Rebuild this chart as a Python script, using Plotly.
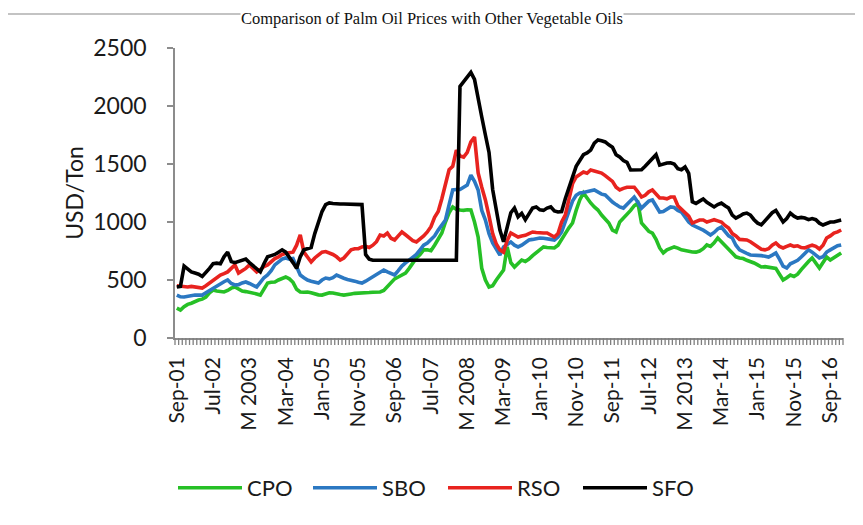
import plotly.graph_objects as go

months_count = 184  # Sep-01 .. Dec-16 monthly
tick_positions = [0, 10, 20, 30, 40, 50, 60, 70, 80, 90, 100, 110, 120, 130, 140, 150, 160, 170, 180]
tick_labels = ["Sep-01", "Jul-02", "M 2003", "Mar-04", "Jan-05", "Nov-05", "Sep-06", "Jul-07",
               "M 2008", "Mar-09", "Jan-10", "Nov-10", "Sep-11", "Jul-12", "M 2013", "Mar-14",
               "Jan-15", "Nov-15", "Sep-16"]

cpo = [258, 241, 270, 290, 300, 315, 327, 335, 353, 390,
       414, 405, 400, 397, 410, 430, 440, 420, 405, 400,
       395, 390, 380, 370, 420, 474, 480, 483, 500, 515,
       526, 510, 480, 420, 397, 395, 397, 390, 380, 372,
       370, 380, 390, 388, 385, 375, 370, 372, 380, 385,
       385, 388, 390, 392, 395, 397, 397, 410, 440, 480,
       510, 526, 545, 560, 600, 650, 690, 720, 760, 760,
       752, 800, 860, 905, 1000, 1080, 1130, 1110, 1103, 1100,
       1105, 1103, 1000, 870, 600, 500, 440, 450, 500, 543,
       586, 785, 650, 612, 640, 672, 660, 680, 710, 733,
       760, 785, 780, 776, 776, 800, 845, 900, 950, 991,
       1100, 1190, 1250, 1200, 1164, 1130, 1103, 1060, 1020, 991,
       930, 914, 1000, 1030, 1060, 1100, 1140, 1164, 991, 950,
       920, 905, 850, 776, 733, 760, 770, 785, 775, 760,
       755, 745, 741, 740, 750, 770, 802, 790, 820, 862,
       830, 802, 760, 733, 700, 690, 685, 670, 660, 647,
       630, 612, 615, 610, 605, 600, 550, 500, 520, 543,
       530, 550, 590, 630, 660, 690, 650, 603, 650, 698,
       672, 690, 715, 733]

sbo = [370, 355, 353, 360, 365, 370, 370, 370, 390, 410,
       430, 450, 470, 485, 500, 470, 457, 460, 475, 483,
       470, 455, 440, 480, 520, 543, 580, 630, 660, 680,
       690, 680, 685, 620, 543, 520, 500, 490, 480, 474,
       500, 517, 510, 520, 543, 526, 515, 505, 500, 490,
       480, 474, 490, 510, 526, 550, 575, 586, 570, 555,
       543, 580, 620, 647, 670, 690, 720, 760, 800, 819,
       850, 880, 930, 980, 1017, 1150, 1276, 1280, 1280, 1300,
       1319, 1405, 1350, 1276, 1100, 1017, 900, 819, 760, 715,
       785, 810, 828, 800, 785, 800, 820, 845, 850, 860,
       862, 860, 858, 850, 845, 870, 914, 1000, 1103, 1180,
       1230, 1250, 1255, 1259, 1270, 1276, 1260, 1240, 1233, 1200,
       1172, 1150, 1130, 1120, 1150, 1190, 1215, 1170, 1120, 1150,
       1180, 1190, 1140, 1086, 1090, 1110, 1130, 1125, 1100, 1086,
       1040, 1000, 974, 960, 948, 930, 910, 888, 910, 940,
       957, 920, 880, 862, 800, 760, 741, 730, 716, 716,
       716, 710, 705, 698, 715, 733, 680, 620, 603, 640,
       655, 670, 698, 730, 760, 740, 710, 690, 700, 741,
       760, 780, 795, 802]

rso = [450, 445, 440, 440, 445, 440, 430, 430, 450, 475,
       500, 520, 543, 555, 570, 600, 630, 560, 580, 600,
       630, 600, 570, 590, 615, 630, 660, 685, 700, 720,
       730, 735, 740, 800, 890, 740, 700, 655, 690, 720,
       740, 745, 735, 720, 700, 672, 690, 720, 760, 770,
       770, 785, 790, 780, 800, 830, 888, 880, 905, 860,
       845, 880, 914, 890, 860, 840, 828, 850, 880, 914,
       960, 1040, 1090, 1200, 1336, 1450, 1480, 1620, 1570, 1560,
       1600, 1690, 1733, 1422, 1300, 1190, 1050, 900, 810, 760,
       740, 840, 905, 885, 870, 880, 885, 900, 914, 910,
       905, 905, 905, 890, 870, 900, 1000, 1060, 1200, 1330,
       1388, 1410, 1431, 1420, 1448, 1440, 1430, 1422, 1400, 1375,
       1350, 1300, 1276, 1290, 1300, 1300, 1300, 1260, 1215, 1230,
       1260, 1276, 1240, 1207, 1207, 1200, 1215, 1215, 1140, 1110,
       1090, 1050, 991, 1000, 1017, 1017, 1000, 1010, 1020, 1010,
       1000, 970, 948, 900, 880, 850, 845, 845, 830, 810,
       790, 765, 760, 770, 800, 819, 790, 776, 790, 802,
       790, 795, 780, 776, 790, 800, 790, 767, 800, 862,
       880, 905, 915, 931]

sfo = [440, 445, 620, 590, 570, 560, 550, 530, 560, 600,
       640, 645, 640, 700, 740, 660, 650, 660, 670, 680,
       650, 620, 590, 570, 640, 700, 710, 720, 740, 760,
       740, 700, 650, 600, 700, 760, 770, 780, 900, 1000,
       1090, 1150, 1165, 1160, 1155, 1155, 1155, 1155, 1155, 1155,
       1155, 1150, 720, 680, 670, 670, 670, 670, 670, 670,
       670, 670, 670, 670, 670, 670, 670, 670, 670, 670,
       670, 670, 670, 670, 670, 670, 670, 670, 2170, 2210,
       2260, 2290, 2230, 2050, 1905, 1750, 1600, 1280, 1100, 930,
       830, 950, 1080, 1120, 1045, 1075, 1020, 1070, 1120, 1130,
       1105, 1100, 1120, 1130, 1095, 1086, 1090, 1200, 1300, 1380,
       1480, 1530, 1580, 1595, 1620, 1680, 1707, 1700, 1690, 1665,
       1645, 1580, 1560, 1530, 1515, 1448, 1448, 1448, 1450, 1480,
       1517, 1550, 1580, 1490, 1500, 1508, 1510, 1500, 1460, 1450,
       1474, 1420, 1175, 1160, 1180, 1198, 1170, 1146, 1130, 1150,
       1163, 1140, 1120, 1060, 1034, 1050, 1070, 1077, 1060, 1020,
       990, 975, 1010, 1040, 1080, 1100, 1050, 1000, 1030, 1077,
       1050, 1034, 1040, 1034, 1020, 1030, 1020, 990, 974, 990,
       1000, 1000, 1010, 1017]

x_idx = list(range(months_count))

series = [("CPO", cpo, "#26c026"), ("SBO", sbo, "#2b78c2"),
          ("RSO", rso, "#e8231f"), ("SFO", sfo, "#000000")]

FONT = "Lato"
TXT = "#1a1a1a"
AX = "#8c8c8c"

fig = go.Figure()
for name, vals, color in series:
    fig.add_trace(go.Scatter(x=x_idx, y=vals, mode="lines", name=name,
                             line=dict(color=color, width=3.6)))

# The page body has an 8px margin: figure coordinates = page coordinates - 8
OFF = 8
W, H = 863 - OFF, 525 - OFF
# plot area on page: x 175..843, y 48..338
L = 175 - OFF
T = 48 - OFF
R = W - (843 - OFF)
B = H - (338 - OFF)
pw, ph = W - L - R, H - T - B

def px_x(p):  # page px -> paper
    return (p - OFF - L) / pw

def px_y(p):
    return (H - B - (p - OFF)) / ph

fig.add_shape(type="rect", xref="paper", yref="paper",
              x0=px_x(5), x1=px_x(900), y0=px_y(560), y1=px_y(14),
              line=dict(color="#b0b0b0", width=1.5), fillcolor="rgba(0,0,0,0)", layer="below")

# month tick marks between categories (Excel category-axis style), paper-referenced
tick_len_paper = 7 / ph
for i in range(months_count + 1):
    xp = i / months_count
    fig.add_shape(type="line", xref="paper", yref="paper",
                  x0=xp, x1=xp, y0=0, y1=-tick_len_paper,
                  line=dict(color="#7f7f7f", width=1.3), layer="above")

fig.add_annotation(text="Comparison of Palm Oil Prices with Other Vegetable Oils",
                   xref="paper", yref="paper", x=px_x(432), y=px_y(8), xanchor="center", yanchor="top",
                   showarrow=False, bgcolor="white", borderpad=0,
                   font=dict(family="Liberation Serif", size=16.5, color="#111"))

fig.update_layout(
    width=W, height=H,
    margin=dict(l=L, r=R, t=T, b=B, autoexpand=False),
    paper_bgcolor="white", plot_bgcolor="white",
    font=dict(family=FONT, color=TXT),
    showlegend=True,
    legend=dict(orientation="h", x=px_x(173), xanchor="left", y=px_y(488), yanchor="middle",
                font=dict(family=FONT, size=22, color=TXT),
                itemwidth=64, entrywidth=56, tracegroupgap=0, bgcolor="rgba(0,0,0,0)"),
)

fig.update_layout(xaxis=dict(
    range=[-0.5, months_count - 0.5],
    tickmode="array", tickvals=tick_positions, ticktext=tick_labels,
    tickangle=-90, ticks="", showgrid=False, zeroline=False,
    showline=True, linecolor=AX, linewidth=1.5,
    tickfont=dict(family=FONT, size=21, color=TXT),
    ticklabelstandoff=9, automargin=False,
))

fig.update_yaxes(
    range=[0, 2500], tickmode="linear", tick0=0, dtick=500,
    ticks="outside", ticklen=6, tickcolor=AX, tickwidth=1.5,
    showgrid=False, zeroline=False, showline=True, linecolor=AX, linewidth=1.5,
    tickfont=dict(family=FONT, size=23, color=TXT),
    ticklabelstandoff=16, automargin=False,
    title=dict(text="USD/Ton", font=dict(family=FONT, size=23, color=TXT), standoff=3),
)

fig.write_html("out.html")
